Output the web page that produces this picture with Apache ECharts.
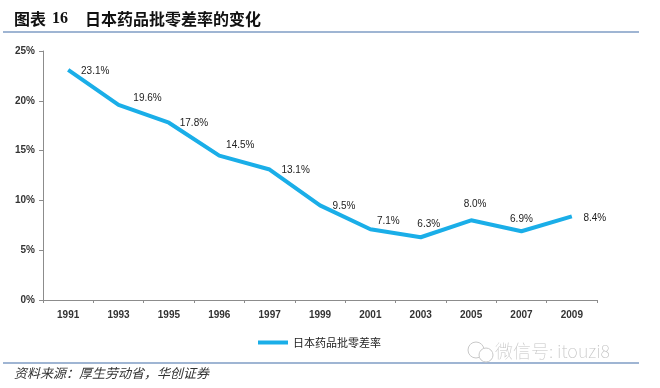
<!DOCTYPE html>
<html><head><meta charset="utf-8">
<script src="https://cdn.jsdelivr.net/npm/echarts@6/dist/echarts.min.js"></script>
<style>html,body{margin:0;padding:0;background:#fff}#c{width:660px;height:388px}</style>
</head><body><div id="c"></div>
<script>
const years = ['1991','1993','1995','1996','1997','1999','2001','2003','2005','2007','2009'];
const rate = [23.1, 19.6, 17.8, 14.5, 13.1, 9.5, 7.1, 6.3, 8.0, 6.9, 8.4];
const yTicks = [0, 5, 10, 15, 20, 25];
const seriesName = '日本药品批零差率';
const labelOffset = [[27,1],[29,-7],[25,1],[21,-10],[26,1],[24,1],[18,-8],[8,-13],[4,-16],[0,-12],[23,2]];

const chart = echarts.init(document.getElementById('c'), null, {renderer:'canvas'});
const lineColor = '#1aaee8';
const font = '"Liberation Sans", "Noto Sans CJK SC", sans-serif';
chart.setOption({
  animation: false,
  textStyle: {fontFamily: font},
  grid: {left: 43, right: 63, top: 51, bottom: 88},
  legend: {
    data: [{name: seriesName, icon: 'rect'}],
    left: 253, top: 332, itemWidth: 30, itemHeight: 4, itemGap: 5,
    textStyle: {fontSize: 11, color: '#222', fontFamily: '"Noto Sans CJK SC", sans-serif', padding: [0,0,0,0]}
  },
  xAxis: {
    type: 'category', data: years, boundaryGap: true,
    axisLine: {lineStyle: {color: '#8c8c8c', width: 1}},
    axisTick: {show: true, length: 3, lineStyle: {color: '#8c8c8c'}},
    axisLabel: {fontSize: 10, color: '#333', margin: 10, fontWeight: 'bold'}
  },
  yAxis: {
    type: 'value', min: yTicks[0], max: yTicks[yTicks.length-1], interval: 5,
    axisLine: {show: true, lineStyle: {color: '#8c8c8c', width: 1}},
    axisTick: {show: true, length: 4, lineStyle: {color: '#8c8c8c'}},
    splitLine: {show: false},
    axisLabel: {fontSize: 10, color: '#333', margin: 8, fontWeight: 'bold', formatter: v => v + '%'}
  },
  series: [{
    name: seriesName, type: 'line',
    data: rate.map((v,i) => ({value: v, label: {offset: labelOffset[i]}})),
    symbol: 'circle', symbolSize: 0.1, showSymbol: true,
    lineStyle: {color: lineColor, width: 4},
    itemStyle: {color: lineColor},
    label: {show: true, position: 'inside', align: 'center', verticalAlign: 'middle',
      fontSize: 10, color: '#222', formatter: p => p.value.toFixed(1) + '%'}
  }],
  graphic: [
    {type: 'text', left: 14, top: 11, style: {text: '图表', fontSize: 16, fontWeight: 'bold', fill: '#111', fontFamily: '"Noto Sans CJK SC", sans-serif'}},
    {type: 'text', left: 52, top: 11, style: {text: '16', fontSize: 16, fontWeight: 'bold', fill: '#111', fontFamily: '"Liberation Serif", serif'}},
    {type: 'text', left: 85, top: 11, style: {text: '日本药品批零差率的变化', fontSize: 16, fontWeight: 'bold', fill: '#111', fontFamily: '"Noto Sans CJK SC", sans-serif'}},
    {type: 'line', shape: {x1: 3, y1: 32, x2: 639, y2: 32}, style: {stroke: '#7f9cc4', lineWidth: 1.5}},
    {type: 'line', shape: {x1: 3, y1: 363, x2: 639, y2: 363}, style: {stroke: '#7f9cc4', lineWidth: 1.5}},
    {type: 'text', left: 14, top: 367, style: {text: '资料来源：厚生劳动省，华创证券', fontSize: 13, fontStyle: 'italic', fill: '#333', fontFamily: '"Noto Sans CJK SC", sans-serif'}},
    {type: 'text', left: 495, top: 342, style: {text: '微信号: itouzi8', fontSize: 18, fill: '#c4c4c4', fontFamily: '"Noto Sans CJK SC", sans-serif', fontWeight: 'lighter'}},
    {type: 'circle', shape: {cx: 476, cy: 350, r: 8}, style: {fill: 'none', stroke: '#c8c8c8', lineWidth: 1}},
    {type: 'circle', shape: {cx: 486, cy: 355, r: 7}, style: {fill: '#fff', stroke: '#c8c8c8', lineWidth: 1}}
  ]
});
</script></body></html>
